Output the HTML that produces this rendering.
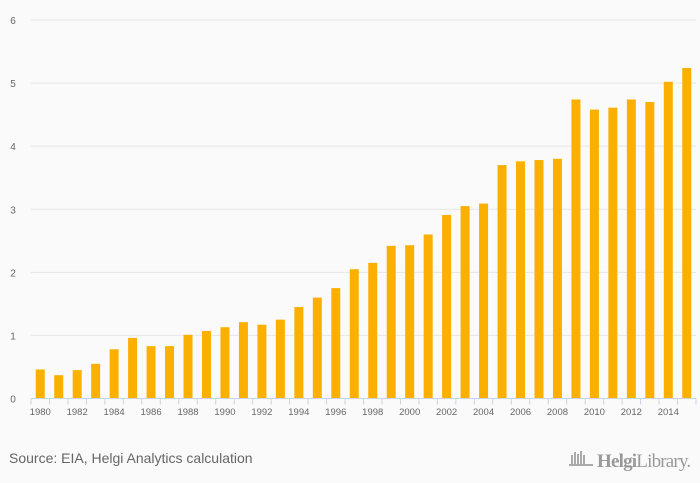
<!DOCTYPE html>
<html><head><meta charset="utf-8"><style>
html,body{margin:0;padding:0;background:#fafafa;}
svg{display:block;font-family:"Liberation Sans",sans-serif;}
</style></head><body>
<svg id="chart" width="700" height="483" viewBox="0 0 700 483">
<rect width="700" height="483" fill="#fafafa"/>
<g id="grid"></g><g id="bars"></g><g id="xaxis"></g>
<text x="9" y="463" font-size="14" fill="#666">Source: EIA, Helgi Analytics calculation</text>
<g>
<g fill="#aaa"><rect x="571" y="455" width="2" height="10"/><rect x="574" y="452" width="2" height="13"/><rect x="577" y="454" width="2" height="11"/><rect x="580" y="451" width="2" height="14"/><rect x="583" y="455" width="2" height="10"/><rect x="569" y="464" width="24" height="2"/></g>
<text x="597" y="467" font-size="19" fill="#999" font-family="Liberation Serif,serif" letter-spacing="-0.8"><tspan font-weight="bold">Helgi</tspan>Library.</text>
</g>
</svg>
<script>
const years=[1980,1981,1982,1983,1984,1985,1986,1987,1988,1989,1990,1991,1992,1993,1994,1995,1996,1997,1998,1999,2000,2001,2002,2003,2004,2005,2006,2007,2008,2009,2010,2011,2012,2013,2014,2015];
const values=[0.46,0.37,0.45,0.55,0.78,0.96,0.83,0.83,1.01,1.07,1.13,1.21,1.17,1.25,1.45,1.60,1.75,2.05,2.15,2.42,2.43,2.60,2.91,3.05,3.09,3.70,3.76,3.78,3.80,4.74,4.58,4.61,4.74,4.70,5.02,5.24];
const yTicks=[0,1,2,3,4,5,6];
const NS="http://www.w3.org/2000/svg";
const x0=31,x1=696,yTop=20,yBot=398.5,yMax=6;
const bw=(x1-x0)/years.length;
const yS=v=>yBot-(v/yMax)*(yBot-yTop);
const xS=i=>x0+bw*i;
function mk(t,a,p){const e=document.createElementNS(NS,t);for(const k in a)e.setAttribute(k,a[k]);p.appendChild(e);return e;}
const grid=document.getElementById('grid'),bars=document.getElementById('bars'),xa=document.getElementById('xaxis');
yTicks.forEach(v=>{
 if(v>0){const l=mk('line',{x1:x0,x2:x1,y1:yS(v),y2:yS(v),stroke:'#e6e6e6','stroke-width':1},grid);
 
 }
 const t=mk('text',{x:13,y:yS(v)+4,'font-size':10,fill:'#666','text-anchor':'middle'},grid);t.textContent=v;
 
 
});
values.forEach((v,i)=>{
 const r=mk('rect',{x:xS(i)+bw/2-4.5,y:yS(v),width:9,height:yBot-yS(v),fill:'#fbb000'},bars);
 
 
});
const ax=mk('line',{x1:x0,x2:x1,y1:yBot,y2:yBot,stroke:'#c8d4e8','stroke-width':1},xa);


for(let i=0;i<=years.length;i++){mk('line',{x1:xS(i),x2:xS(i),y1:yBot,y2:yBot+6,stroke:'#c8d4e8'},xa);}
years.forEach((y,i)=>{if(i%2)return;
 const t=mk('text',{x:xS(i)+bw/2,y:415,'font-size':9.5,fill:'#666','text-anchor':'middle'},xa);t.textContent=y;
 
 
});
</script>
</body></html>
